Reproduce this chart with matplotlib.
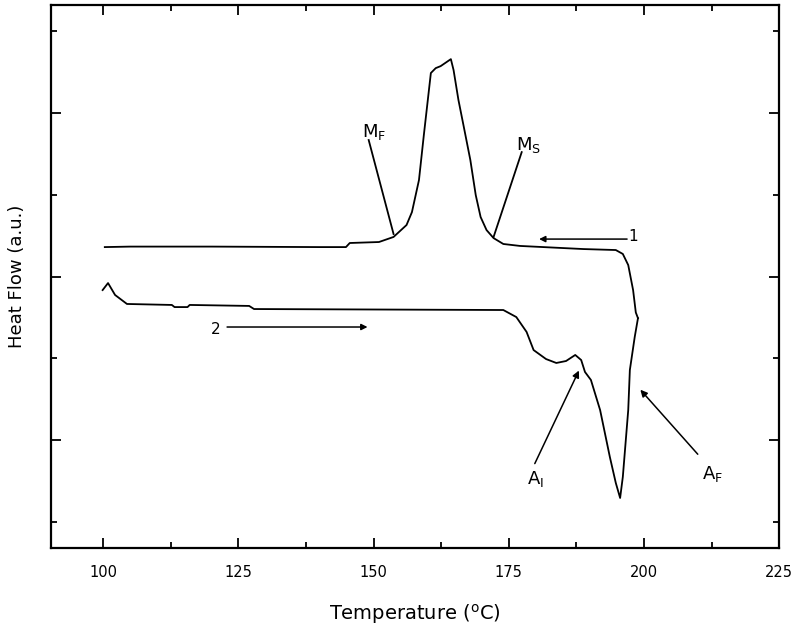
import numpy as np
import matplotlib.pyplot as plt
from matplotlib.ticker import MultipleLocator, NullFormatter

# Curve 1 (cooling run)
t1 = [100.3, 105.0, 120.0, 140.0, 144.9, 145.6, 151.0, 153.7, 156.1, 157.1, 158.4,
      159.3, 160.6, 161.5, 162.4, 164.3, 164.8, 165.7, 166.7, 167.9, 168.9, 169.8,
      170.9, 172.2, 174.0, 177.1, 188.8, 194.8, 196.1, 197.1, 198.0, 198.5, 198.9]
hf1 = [2.180, 2.183, 2.183, 2.180, 2.180, 2.205, 2.211, 2.242, 2.315, 2.394, 2.590,
       2.865, 3.245, 3.275, 3.287, 3.330, 3.263, 3.080, 2.914, 2.713, 2.498, 2.364,
       2.284, 2.235, 2.199, 2.187, 2.168, 2.162, 2.138, 2.070, 1.917, 1.780, 1.745]

# Curve 2 (heating run)
t2 = [99.9, 100.9, 102.2, 104.4, 112.7, 113.2, 115.6, 116.0, 127.0, 127.9, 174.0,
      176.4, 178.3, 179.6, 181.9, 183.8, 185.6, 187.3, 188.4, 189.1, 190.2, 191.9,
      193.7, 194.8, 195.6, 196.1, 197.1, 197.4, 198.3, 198.9]
hf2 = [1.917, 1.960, 1.887, 1.832, 1.826, 1.813, 1.813, 1.826, 1.820, 1.801, 1.795,
       1.752, 1.661, 1.550, 1.495, 1.471, 1.483, 1.520, 1.489, 1.416, 1.367, 1.183,
       0.896, 0.737, 0.645, 0.774, 1.183, 1.428, 1.630, 1.745]

fig = plt.figure(figsize=(7.95, 6.28), dpi=100)
ax = fig.add_axes([0.0638, 0.1274, 0.9162, 0.8646])

ax.plot(t1, hf1, color='black', lw=1.3)
ax.plot(t2, hf2, color='black', lw=1.3)

# labels with leader lines
ax.text(150.1, 2.884, r'M$_\mathregular{F}$', fontsize=13, ha='center', va='center')
ax.plot([149.1, 153.7], [2.835, 2.26], color='black', lw=1.3)
ax.text(178.6, 2.804, r'M$_\mathregular{S}$', fontsize=13, ha='center', va='center')
ax.plot([177.4, 172.2], [2.761, 2.242], color='black', lw=1.3)

ax.annotate('', xy=(188.2, 1.44), xytext=(179.6, 0.84),
            arrowprops=dict(arrowstyle='-|>', color='black', lw=1.1, mutation_scale=10))
ax.text(180.0, 0.76, r'A$_\mathregular{I}$', fontsize=13, ha='center', va='center')
ax.annotate('', xy=(199.0, 1.32), xytext=(210.3, 0.90),
            arrowprops=dict(arrowstyle='-|>', color='black', lw=1.1, mutation_scale=10))
ax.text(212.6, 0.79, r'A$_\mathregular{F}$', fontsize=13, ha='center', va='center')

# run direction arrows
ax.annotate('', xy=(180.1, 2.229), xytext=(197.4, 2.229),
            arrowprops=dict(arrowstyle='-|>', color='black', lw=1.1, mutation_scale=9))
ax.text(197.2, 2.245, '1', fontsize=11, ha='left', va='center')
ax.annotate('', xy=(149.4, 1.691), xytext=(122.4, 1.691),
            arrowprops=dict(arrowstyle='-|>', color='black', lw=1.1, mutation_scale=9))
ax.text(120.8, 1.675, '2', fontsize=11, ha='center', va='center')

ax.set_xlim(90.3, 225)
ax.set_ylim(0.339, 3.661)
ax.xaxis.set_major_locator(MultipleLocator(25))
ax.xaxis.set_minor_locator(MultipleLocator(12.5))
ax.yaxis.set_major_locator(MultipleLocator(1))
ax.yaxis.set_minor_locator(MultipleLocator(0.5))
ax.yaxis.set_major_formatter(NullFormatter())
ax.tick_params(which='both', direction='in', top=True, right=True, width=1.3)
ax.tick_params(which='major', length=7, labelsize=10.5, pad=12)
ax.tick_params(which='minor', length=4)
for s in ax.spines.values():
    s.set_linewidth(1.6)

ax.set_xlabel('Temperature ($^\\mathregular{o}$C)', fontsize=14, labelpad=16)
ax.set_ylabel('Heat Flow (a.u.)', fontsize=13, labelpad=6)

fig.savefig('out.png', dpi=100)
